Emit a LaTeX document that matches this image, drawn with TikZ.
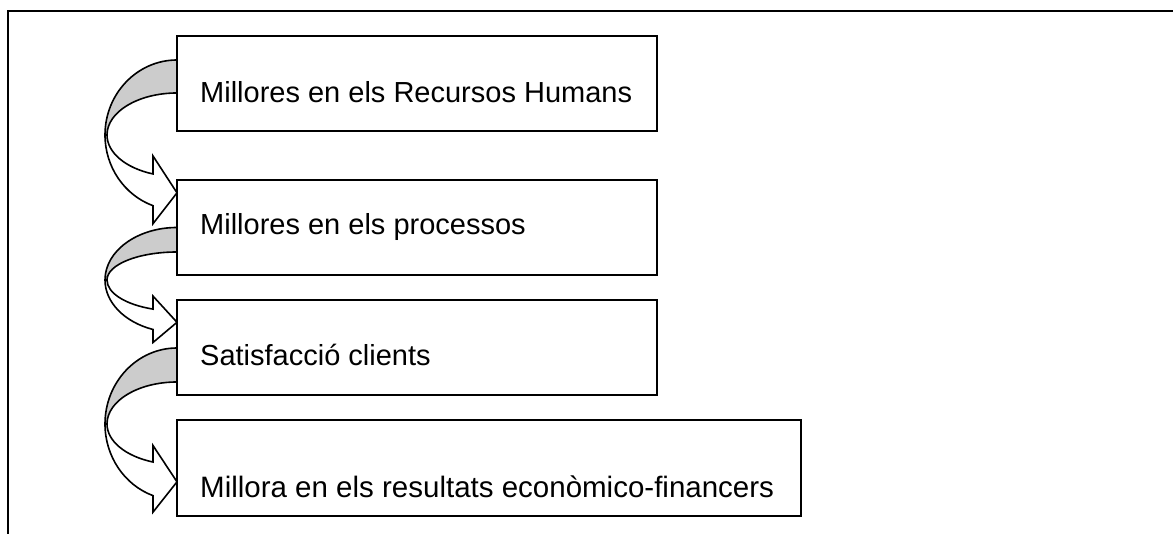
\documentclass[tikz,border=0pt]{standalone}
\usepackage{fontspec}
\setmainfont{Liberation Sans}
\usetikzlibrary{calc}
\definecolor{bandgrey}{HTML}{CCCCCC}
\tikzset{
  box/.style={draw, line width=1.9pt, fill=white, anchor=south west, inner sep=0pt, outer sep=0pt, minimum height=95pt},
  lbl/.style={anchor=base west, inner sep=0pt, font=\fontsize{29pt}{32pt}\selectfont},
  band/.style={draw, line width=1.6pt, fill=bandgrey, line join=round},
  front/.style={draw, line width=1.6pt, fill=white, line join=miter},
  frame/.style={draw, line width=2.2pt},
}
% #1 centre Y, #2 outer y radius, #3 inner upper y radius, #4 inner lower y radius, #5 barb extension
\newcommand\cyarrow[5]{%
  \draw[band] (177,#1+#2) arc[start angle=90,end angle=180,x radius=72,y radius=#2]
     -- (107,#1) arc[start angle=180,end angle=90,x radius=70,y radius=#3] -- cycle;
  \pgfmathsetmacro\ylo{#1-0.9428*#2}%
  \pgfmathsetmacro\yhi{#1-0.9393*#4}%
  \pgfmathsetmacro\ytip{(\ylo+\yhi)/2-3}%
  \draw[front] (105,#1) arc[start angle=180,end angle=250.53,x radius=72,y radius=#2]
     -- (153,\ylo-#5) -- (177,\ytip) -- (153,\yhi+#5) -- (153,\yhi)
     arc[start angle=249.95,end angle=180,x radius=70,y radius=#4] -- cycle;
}
\begin{document}
\begin{tikzpicture}[x=1pt,y=1pt]
\useasboundingbox (0,0) rectangle (1173,534);
\draw[frame] (8,0) -- (8,523) -- (1173,523);
\cyarrow{399}{75}{42}{41.5}{18}
\cyarrow{254}{52.5}{28}{31}{13}
\cyarrow{110}{76}{42}{40.5}{16.5}
\node[box, minimum width=480pt] (b1) at (177,403.3) {};
\node[box, minimum width=480pt] (b2) at (177,259) {};
\node[box, minimum width=480pt] (b3) at (177,139) {};
\node[box, minimum width=624pt, minimum height=96pt] (b4) at (177,18) {};
\node[lbl] (t1) at (200,431) {Millores en els Recursos Humans};
\node[lbl] (t2) at (200,299.7) {Millores en els processos};
\node[lbl] (t3) at (200,168.3) {Satisfacció clients};
\node[lbl, font=\fontsize{29.5pt}{32pt}\selectfont] (t4) at (200,36) {Millora en els resultats econòmico-financers};
\end{tikzpicture}
\end{document}
